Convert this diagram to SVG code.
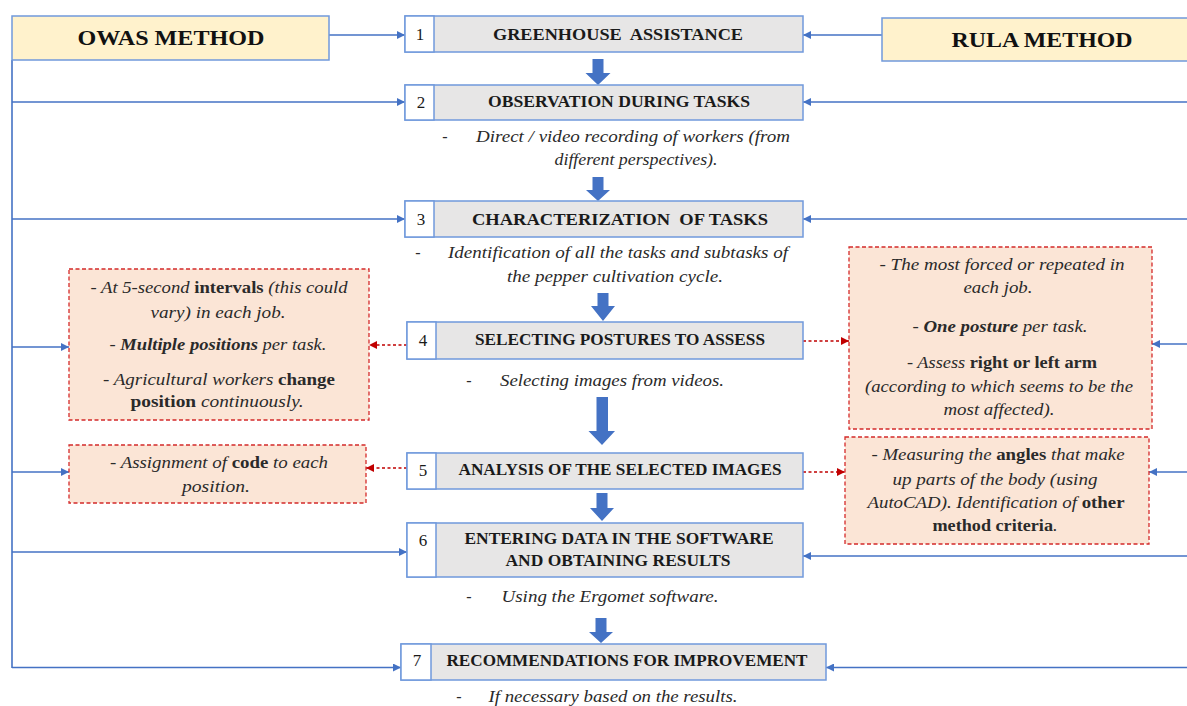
<svg xmlns="http://www.w3.org/2000/svg" width="1187" height="706" viewBox="0 0 1187 706">
<style>
.bx{fill:#e7e6e6;stroke:#7099dc;stroke-width:1.5}
.nc{fill:#ffffff;stroke:#7099dc;stroke-width:1.5}
.meth{fill:#fff2cc;stroke:#7099dc;stroke-width:1.5}
.note{fill:#fbe5d6;stroke:#d42a2a;stroke-width:1.3;stroke-dasharray:4 2.5}
.ttl{font-family:"Liberation Serif","Times New Roman",serif;font-weight:bold;font-size:17px;fill:#1a1a1a;text-anchor:middle}
.num{font-family:"Liberation Serif","Times New Roman",serif;font-size:17px;fill:#1a1a1a;text-anchor:middle}
.mt{font-family:"Liberation Serif","Times New Roman",serif;font-weight:bold;font-size:21px;fill:#111;text-anchor:middle}
.d{font-family:"Liberation Serif","Times New Roman",serif;font-style:italic;font-size:16px;fill:#2a2a2a;text-anchor:middle}
.dash{font-family:"Liberation Serif","Times New Roman",serif;font-size:16px;fill:#2a2a2a;text-anchor:middle}
.b{font-weight:bold;font-style:normal}
.bi{font-weight:bold}
.bl{stroke:#4472c4;stroke-width:1.6;fill:none}
.rd{stroke:#c00000;stroke-width:1.4;fill:none;stroke-dasharray:3 2.5}
.blk{fill:#4472c4}
</style>
<defs>
<marker id="ab" viewBox="0 0 10 10" refX="10" refY="5" markerWidth="9" markerHeight="8" markerUnits="userSpaceOnUse" orient="auto"><path d="M0,0 L10,5 L0,10 z" fill="#4472c4"/></marker>
<marker id="ar" viewBox="0 0 10 10" refX="10" refY="5" markerWidth="9" markerHeight="8" markerUnits="userSpaceOnUse" orient="auto"><path d="M0,0 L10,5 L0,10 z" fill="#c00000"/></marker>
</defs>

<g id="connectors">
<path class="bl" d="M12,60 V668"/>
<path class="bl" d="M329,35 H405" marker-end="url(#ab)"/>
<path class="bl" d="M12,102 H405" marker-end="url(#ab)"/>
<path class="bl" d="M12,219 H405" marker-end="url(#ab)"/>
<path class="bl" d="M12,347 H69" marker-end="url(#ab)"/>
<path class="bl" d="M12,472 H69" marker-end="url(#ab)"/>
<path class="bl" d="M12,552 H407" marker-end="url(#ab)"/>
<path class="bl" d="M12,667.5 H401" marker-end="url(#ab)"/>
<path class="bl" d="M882,35 H803" marker-end="url(#ab)"/>
<path class="bl" d="M1190,102 H803" marker-end="url(#ab)"/>
<path class="bl" d="M1190,219 H803" marker-end="url(#ab)"/>
<path class="bl" d="M1190,344 H1152" marker-end="url(#ab)"/>
<path class="bl" d="M1190,472 H1149" marker-end="url(#ab)"/>
<path class="bl" d="M1190,556 H803" marker-end="url(#ab)"/>
<path class="bl" d="M1190,667.5 H826" marker-end="url(#ab)"/>
<path class="rd" d="M407,345 H369" marker-end="url(#ar)"/>
<path class="rd" d="M803,341 H849" marker-end="url(#ar)"/>
<path class="rd" d="M407,468 H366" marker-end="url(#ar)"/>
<path class="rd" d="M803,472 H845" marker-end="url(#ar)"/>
<polygon class="blk" points="592.5,59 603.5,59 603.5,73 610.5,73 598,85 585.5,73 592.5,73"/>
<polygon class="blk" points="592.5,177 603.5,177 603.5,190 610,190 598,201 586,190 592.5,190"/>
<polygon class="blk" points="597.5,293 608.5,293 608.5,306 615,306 603,321 591,306 597.5,306"/>
<polygon class="blk" points="596.5,397 608,397 608,431 615,431 602,445 588.5,431 596.5,431"/>
<polygon class="blk" points="596.5,493 607.5,493 607.5,508 614,508 602,521 590,508 596.5,508"/>
<polygon class="blk" points="595.5,618 606.5,618 606.5,632 613,632 601,643 589,632 595.5,632"/>
</g>

<g id="owas">
<rect class="meth" x="12" y="16" width="317" height="44"/>
<text class="mt" x="171" y="45" textLength="187" lengthAdjust="spacingAndGlyphs">OWAS METHOD</text>
</g>
<g id="rula">
<rect class="meth" x="882" y="18" width="320" height="43"/>
<text class="mt" x="1042" y="47" textLength="181" lengthAdjust="spacingAndGlyphs">RULA METHOD</text>
</g>

<g id="step1">
<rect class="bx" x="405" y="16" width="398" height="36"/>
<rect class="nc" x="405" y="16" width="29" height="36"/>
<text class="num" x="420" y="40">1</text>
<text class="ttl" x="618" y="40" textLength="250" lengthAdjust="spacingAndGlyphs" xml:space="preserve">GREENHOUSE  ASSISTANCE</text>
</g>
<g id="step2">
<rect class="bx" x="405" y="85" width="398" height="35"/>
<rect class="nc" x="405" y="85" width="29" height="35"/>
<text class="num" x="421" y="108">2</text>
<text class="ttl" x="619" y="107" textLength="262" lengthAdjust="spacingAndGlyphs">OBSERVATION DURING TASKS</text>
<text class="dash" x="445" y="142">-</text>
<text class="d" x="633" y="142" textLength="314" lengthAdjust="spacingAndGlyphs">Direct / video recording of workers (from</text>
<text class="d" x="636" y="165" textLength="163" lengthAdjust="spacingAndGlyphs">different perspectives).</text>
</g>
<g id="step3">
<rect class="bx" x="405" y="201" width="398" height="36"/>
<rect class="nc" x="405" y="201" width="29" height="36"/>
<text class="num" x="421" y="225">3</text>
<text class="ttl" x="620" y="225" textLength="296" lengthAdjust="spacingAndGlyphs" xml:space="preserve">CHARACTERIZATION  OF TASKS</text>
<text class="dash" x="418" y="258">-</text>
<text class="d" x="618" y="258" textLength="340" lengthAdjust="spacingAndGlyphs">Identification of all the tasks and subtasks of</text>
<text class="d" x="615" y="282" textLength="216" lengthAdjust="spacingAndGlyphs">the pepper cultivation cycle.</text>
</g>
<g id="step4">
<rect class="bx" x="407" y="322" width="396" height="37"/>
<rect class="nc" x="407" y="322" width="29" height="37"/>
<text class="num" x="423" y="346">4</text>
<text class="ttl" x="620" y="345" textLength="290" lengthAdjust="spacingAndGlyphs">SELECTING POSTURES TO ASSESS</text>
<text class="dash" x="469" y="386">-</text>
<text class="d" x="612" y="386" textLength="224" lengthAdjust="spacingAndGlyphs">Selecting images from videos.</text>
</g>
<g id="step5">
<rect class="bx" x="407" y="453" width="396" height="36"/>
<rect class="nc" x="407" y="453" width="29" height="36"/>
<text class="num" x="423" y="476">5</text>
<text class="ttl" x="620" y="475" textLength="323" lengthAdjust="spacingAndGlyphs">ANALYSIS OF THE SELECTED IMAGES</text>
</g>
<g id="step6">
<rect class="bx" x="407" y="523" width="396" height="54"/>
<rect class="nc" x="407" y="523" width="29" height="54"/>
<text class="num" x="423" y="546">6</text>
<text class="ttl" x="619" y="544" textLength="309" lengthAdjust="spacingAndGlyphs">ENTERING DATA IN THE SOFTWARE</text>
<text class="ttl" x="618" y="566" textLength="225" lengthAdjust="spacingAndGlyphs">AND OBTAINING RESULTS</text>
<text class="dash" x="469" y="602">-</text>
<text class="d" x="610" y="602" textLength="217" lengthAdjust="spacingAndGlyphs">Using the Ergomet software.</text>
</g>
<g id="step7">
<rect class="bx" x="401" y="644" width="425" height="36"/>
<rect class="nc" x="401" y="644" width="30" height="36"/>
<text class="num" x="417" y="666">7</text>
<text class="ttl" x="627" y="666" textLength="361" lengthAdjust="spacingAndGlyphs">RECOMMENDATIONS FOR IMPROVEMENT</text>
<text class="dash" x="459" y="702">-</text>
<text class="d" x="613" y="702" textLength="249" lengthAdjust="spacingAndGlyphs">If necessary based on the results.</text>
</g>

<g id="owas-note4">
<rect class="note" x="69" y="269" width="300" height="151"/>
<text class="d" x="219" y="293" textLength="257" lengthAdjust="spacingAndGlyphs">- At 5-second <tspan class="b">intervals</tspan> (this could</text>
<text class="d" x="218" y="318" textLength="135" lengthAdjust="spacingAndGlyphs">vary) in each job.</text>
<text class="d" x="218" y="350" textLength="217" lengthAdjust="spacingAndGlyphs">- <tspan class="bi">Multiple positions</tspan> per task.</text>
<text class="d" x="219" y="385" textLength="232" lengthAdjust="spacingAndGlyphs">- Agricultural workers <tspan class="b">change</tspan></text>
<text class="d" x="217" y="407" textLength="173" lengthAdjust="spacingAndGlyphs"><tspan class="b">position</tspan> continuously.</text>
</g>
<g id="owas-note5">
<rect class="note" x="69" y="445" width="297" height="58"/>
<text class="d" x="219" y="468" textLength="218" lengthAdjust="spacingAndGlyphs">- Assignment of <tspan class="b">code</tspan> to each</text>
<text class="d" x="216" y="492" textLength="68" lengthAdjust="spacingAndGlyphs">position.</text>
</g>
<g id="rula-note4">
<rect class="note" x="849" y="247" width="303" height="182"/>
<text class="d" x="1002" y="270" textLength="245" lengthAdjust="spacingAndGlyphs">- The most forced or repeated in</text>
<text class="d" x="998" y="293" textLength="69" lengthAdjust="spacingAndGlyphs">each job.</text>
<text class="d" x="1000" y="332" textLength="175" lengthAdjust="spacingAndGlyphs">- <tspan class="bi">One posture</tspan> per task.</text>
<text class="d" x="1002" y="368" textLength="190" lengthAdjust="spacingAndGlyphs">- Assess <tspan class="b">right or left arm</tspan></text>
<text class="d" x="999" y="392" textLength="268" lengthAdjust="spacingAndGlyphs">(according to which seems to be the</text>
<text class="d" x="999" y="415" textLength="111" lengthAdjust="spacingAndGlyphs">most affected).</text>
</g>
<g id="rula-note5">
<rect class="note" x="845" y="437" width="304" height="107"/>
<text class="d" x="998" y="460" textLength="253" lengthAdjust="spacingAndGlyphs">- Measuring the <tspan class="b">angles</tspan> that make</text>
<text class="d" x="995" y="485" textLength="205" lengthAdjust="spacingAndGlyphs">up parts of the body (using</text>
<text class="d" x="996" y="508" textLength="257" lengthAdjust="spacingAndGlyphs">AutoCAD). Identification of <tspan class="b">other</tspan></text>
<text class="d" x="995" y="531" textLength="125" lengthAdjust="spacingAndGlyphs"><tspan class="b">method criteria</tspan>.</text>
</g>
</svg>
